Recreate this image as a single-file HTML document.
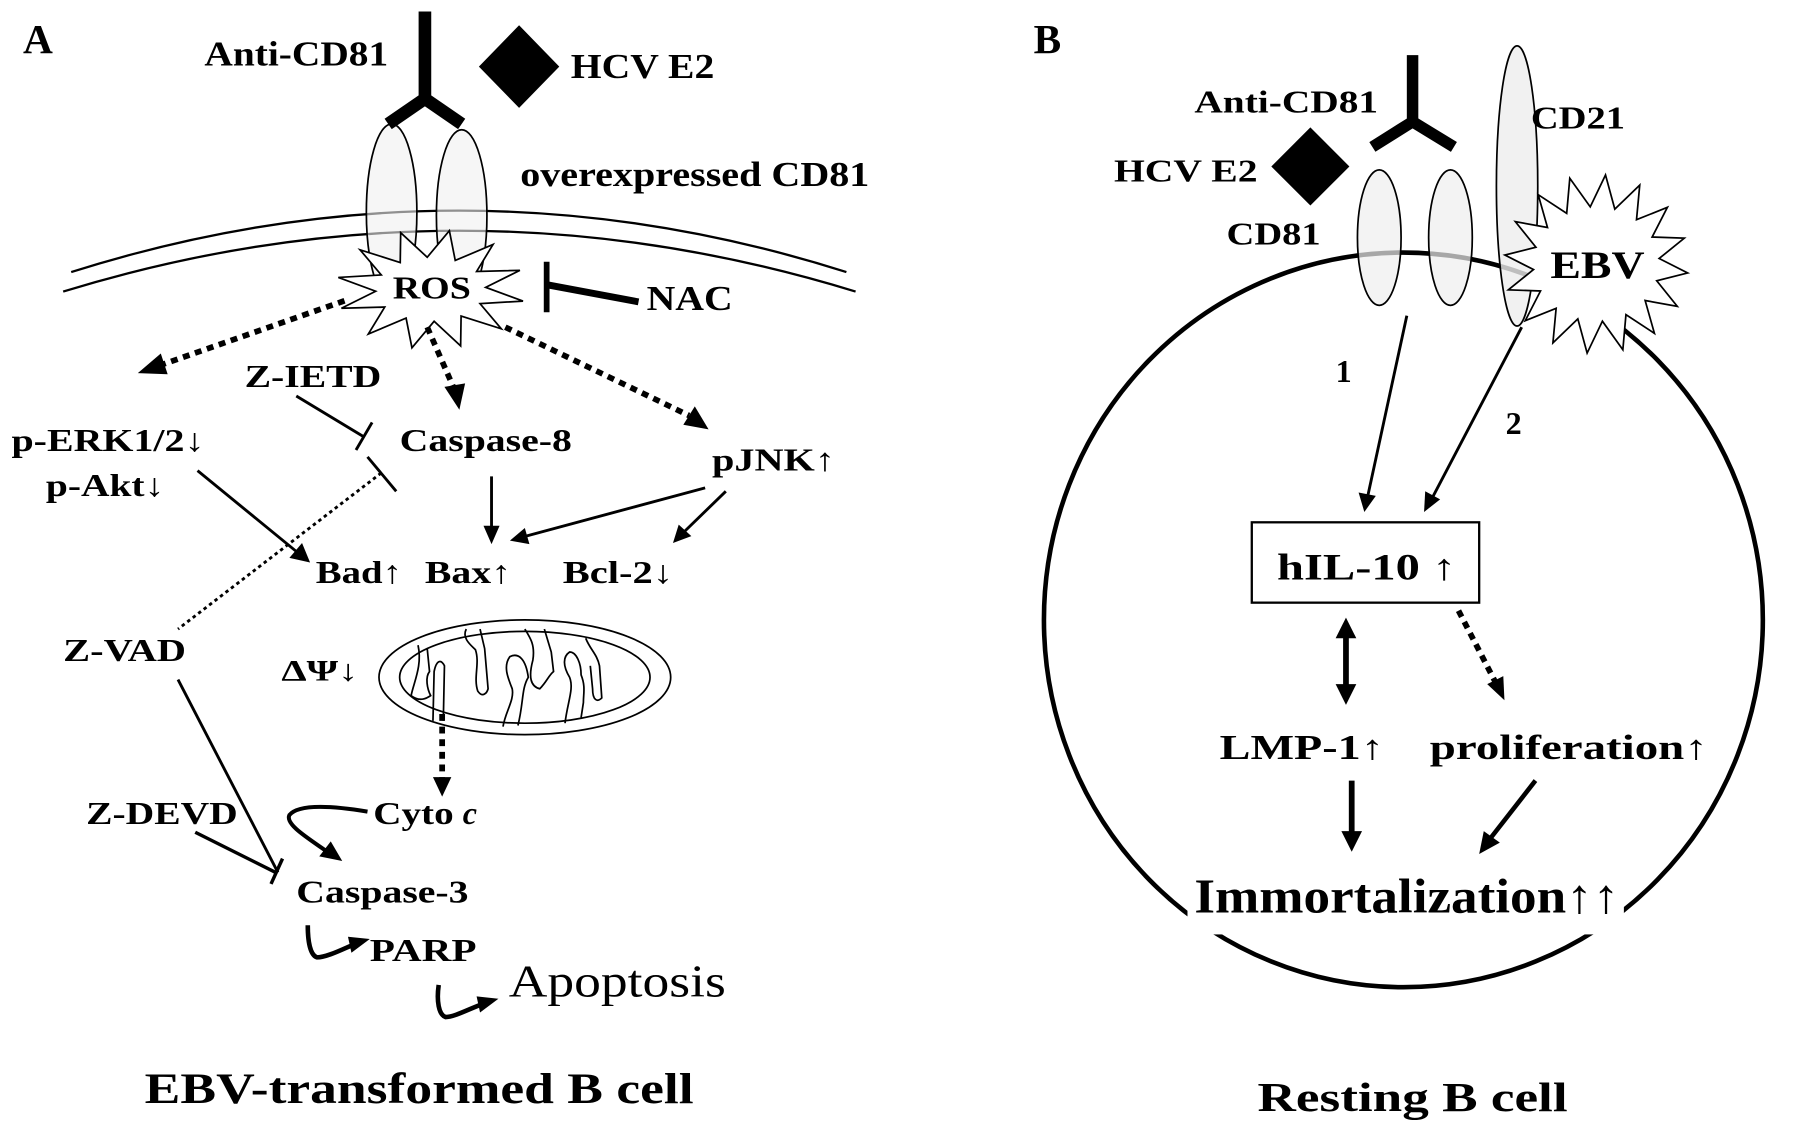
<!DOCTYPE html>
<html><head><meta charset="utf-8"><style>
html,body{margin:0;padding:0;background:#fff;}
svg{display:block;}
text{font-family:"Liberation Serif",serif;font-weight:bold;fill:#000;}
</style></head><body>
<svg width="1795" height="1133" viewBox="0 0 1563 987" preserveAspectRatio="none" xmlns="http://www.w3.org/2000/svg">
<defs>
<marker id="ah" viewBox="0 0 10 10" refX="9" refY="5" markerWidth="5" markerHeight="5" orient="auto" markerUnits="userSpaceOnUse" style="overflow:visible">
</marker>
</defs>
<rect width="1563" height="987" fill="#fff"/>
<!-- ================= PANEL A ================= -->
<text x="20" y="46" font-size="36">A</text>
<text x="178" y="57" font-size="30" textLength="160" lengthAdjust="spacingAndGlyphs">Anti-CD81</text>
<polygon points="452,22 487,58 452,94 417,58" fill="#000"/>
<text x="497" y="68" font-size="30" textLength="125" lengthAdjust="spacingAndGlyphs">HCV E2</text>
<!-- membrane -->
<path d="M62 237 Q400 130 737 237" fill="none" stroke="#000" stroke-width="2"/>
<path d="M55 254 Q400 148 745 254" fill="none" stroke="#000" stroke-width="2"/>
<!-- CD81 ellipses -->
<ellipse cx="341" cy="185" rx="22" ry="77" fill="#f0f0f0" fill-opacity="0.6" stroke="#000" stroke-width="1.5"/>
<ellipse cx="402" cy="188" rx="22" ry="75" fill="#f0f0f0" fill-opacity="0.6" stroke="#000" stroke-width="1.5"/>
<!-- antibody -->
<path d="M370 10 V88 M370 86 L338 108 M370 86 L402 108" stroke="#000" stroke-width="11" fill="none"/>
<text x="453" y="162" font-size="30" textLength="304" lengthAdjust="spacingAndGlyphs">overexpressed CD81</text>
<!-- ROS star -->
<polygon id="ros" fill="#fff" stroke="#000" stroke-width="1.5"/>
<text x="342" y="260" font-size="28" textLength="68" lengthAdjust="spacingAndGlyphs">ROS</text>
<path d="M476 228 V272" stroke="#000" stroke-width="5"/>
<path d="M476 248 L556 263" stroke="#000" stroke-width="6"/>
<text x="563" y="270" font-size="30" textLength="75" lengthAdjust="spacingAndGlyphs">NAC</text>
<!-- dotted arrows from ROS -->
<g stroke="#000" stroke-width="5" stroke-dasharray="6,5" fill="none">
<path d="M300 262 L140 318"/>
<path d="M372 285 L396 340"/>
<path d="M440 285 L600 362"/>
</g>
<g fill="#000">
<polygon points="120,325 140,308 146,326"/>
<polygon points="400,357 387,337 405,334"/>
<polygon points="617,374 595,370 605,354"/>
</g>
<text x="213" y="337" font-size="28" textLength="119" lengthAdjust="spacingAndGlyphs">Z-IETD</text>
<path d="M258 345 L316 380" stroke="#000" stroke-width="2.5"/>
<path d="M324 368 L310 392" stroke="#000" stroke-width="2.5"/>
<path d="M320 398 L345 428" stroke="#000" stroke-width="2.5"/>
<path d="M332 412 L155 548" stroke="#000" stroke-width="2.5" stroke-dasharray="3,3"/>
<text x="348" y="393" font-size="28" textLength="150" lengthAdjust="spacingAndGlyphs">Caspase-8</text>
<text x="10" y="393" font-size="28" textLength="168" lengthAdjust="spacingAndGlyphs">p-ERK1/2↓</text>
<text x="40" y="432" font-size="28" textLength="103" lengthAdjust="spacingAndGlyphs">p-Akt↓</text>
<text x="620" y="410" font-size="28" textLength="107" lengthAdjust="spacingAndGlyphs">pJNK↑</text>
<!-- solid arrows -->
<g stroke="#000" stroke-width="2.5" fill="none">
<path d="M172 410 L260 482"/>
<path d="M428 415 L428 460"/>
<path d="M614 425 L458 467"/>
<path d="M632 428 L596 463"/>
</g>
<g fill="#000">
<polygon points="270,490 252,486 263,473"/>
<polygon points="428,474 421,458 435,458"/>
<polygon points="444,471 457,460 461,474"/>
<polygon points="586,473 591,457 602,467"/>
</g>
<text x="275" y="508" font-size="28" textLength="75" lengthAdjust="spacingAndGlyphs">Bad↑</text>
<text x="370" y="508" font-size="28" textLength="75" lengthAdjust="spacingAndGlyphs">Bax↑</text>
<text x="490" y="508" font-size="28" textLength="96" lengthAdjust="spacingAndGlyphs">Bcl-2↓</text>
<text x="55" y="576" font-size="28" textLength="107" lengthAdjust="spacingAndGlyphs">Z-VAD</text>
<!-- mitochondrion -->
<ellipse cx="457" cy="590" rx="127" ry="50" fill="#fff" stroke="#000" stroke-width="1.5"/>
<ellipse cx="457" cy="590" rx="109" ry="40" fill="none" stroke="#000" stroke-width="1.5"/>
<g stroke="#000" stroke-width="1.5" fill="none">
<path d="M364 562 C368 580 360 595 358 606 C366 612 372 608 375 606 C372 600 370 590 374 585 L372 565"/>
<path d="M377 628 L378 585 C380 575 384 574 387 580 L386 628"/>
<path d="M406 548 C402 556 410 562 414 566 C418 578 412 590 416 602 C420 608 424 604 425 600 L422 565 L418 548"/>
<path d="M438 633 C440 620 448 610 446 600 C442 590 438 580 444 572 C452 568 458 575 460 590 C454 600 456 612 451 632"/>
<path d="M457 548 C462 556 466 562 464 575 C460 590 462 598 470 600 C476 594 478 588 482 585 L480 568 L474 548"/>
<path d="M492 630 C494 612 500 600 496 590 C490 580 490 572 496 568 C502 568 506 578 506 588 C510 598 508 604 508 612 L506 625"/>
<path d="M510 556 C514 566 520 570 522 580 L524 608 C520 612 516 610 516 600 L514 580"/>
</g>
<path d="M385 622 L385 680" stroke="#000" stroke-width="5" stroke-dasharray="6,5"/>
<polygon points="385,694 377,677 393,677" fill="#000"/>
<text x="245" y="593" font-size="26" textLength="67" lengthAdjust="spacingAndGlyphs">ΔΨ↓</text>
<text x="325" y="718" font-size="28" textLength="70" lengthAdjust="spacingAndGlyphs">Cyto</text>
<text x="403" y="718" font-size="28" font-style="italic">c</text>
<text x="75" y="718" font-size="28" textLength="132" lengthAdjust="spacingAndGlyphs">Z-DEVD</text>
<!-- Z-VAD and Z-DEVD inhibitors -->
<path d="M155 592 L242 760" stroke="#000" stroke-width="2.5"/>
<path d="M170 725 L240 760" stroke="#000" stroke-width="3"/>
<path d="M246 748 L236 770" stroke="#000" stroke-width="3"/>
<!-- cyto c curved arrow -->
<path d="M320 707 C290 702 260 700 252 710 C248 718 268 730 285 742" stroke="#000" stroke-width="3.5" fill="none"/>
<polygon points="298,750 278,746 288,733" fill="#000"/>
<text x="258" y="786" font-size="28" textLength="150" lengthAdjust="spacingAndGlyphs">Caspase-3</text>
<!-- PARP hook -->
<path d="M268 806 C268 820 270 832 276 834 C285 834 300 826 310 822" stroke="#000" stroke-width="4" fill="none"/>
<polygon points="322,818 306,830 303,816" fill="#000"/>
<text x="322" y="837" font-size="28" textLength="93" lengthAdjust="spacingAndGlyphs">PARP</text>
<path d="M382 858 C380 872 382 884 388 886 C396 886 410 878 422 874" stroke="#000" stroke-width="4" fill="none"/>
<polygon points="434,870 418,882 415,868" fill="#000"/>
<text x="443" y="868" font-size="40" font-weight="normal" style="font-weight:normal" textLength="189" lengthAdjust="spacingAndGlyphs">Apoptosis</text>
<text x="126" y="961" font-size="38" textLength="478" lengthAdjust="spacingAndGlyphs">EBV-transformed B cell</text>

<!-- ================= PANEL B ================= -->
<text x="900" y="46" font-size="36">B</text>
<ellipse cx="1222" cy="540" rx="313" ry="320" fill="none" stroke="#000" stroke-width="4"/>
<rect x="1034" y="748" width="380" height="66" fill="#fff"/>
<text x="1040" y="98" font-size="28" textLength="160" lengthAdjust="spacingAndGlyphs">Anti-CD81</text>
<text x="970" y="158" font-size="28" textLength="125" lengthAdjust="spacingAndGlyphs">HCV E2</text>
<text x="1068" y="213" font-size="28" textLength="82" lengthAdjust="spacingAndGlyphs">CD81</text>
<polygon points="1141,111 1175,145 1141,179 1107,145" fill="#000"/>
<path d="M1230 48 V108 M1230 106 L1195 128 M1230 106 L1266 128" stroke="#000" stroke-width="10" fill="none"/>
<ellipse cx="1201" cy="207" rx="19" ry="59" fill="#eee" fill-opacity="0.7" stroke="#000" stroke-width="1.5"/>
<ellipse cx="1263" cy="207" rx="19" ry="59" fill="#eee" fill-opacity="0.7" stroke="#000" stroke-width="1.5"/>
<ellipse cx="1321" cy="162" rx="18" ry="122" fill="#eee" fill-opacity="0.8" stroke="#000" stroke-width="1.5"/>
<text x="1333" y="112" font-size="28" textLength="82" lengthAdjust="spacingAndGlyphs">CD21</text>
<polygon id="ebv" fill="#fff" stroke="#000" stroke-width="1.5"/>
<text x="1350" y="242" font-size="34" textLength="82" lengthAdjust="spacingAndGlyphs">EBV</text>
<!-- arrows 1,2 -->
<path d="M1225 275 L1191 432" stroke="#000" stroke-width="2.5"/>
<polygon points="1188,446 1183,429 1198,432" fill="#000"/>
<path d="M1325 285 L1247 434" stroke="#000" stroke-width="2.5"/>
<polygon points="1240,446 1241,428 1254,435" fill="#000"/>
<text x="1163" y="333" font-size="28">1</text>
<text x="1311" y="378" font-size="28">2</text>
<rect x="1090" y="455" width="198" height="70" fill="#fff" stroke="#000" stroke-width="2"/>
<text x="1112" y="505" font-size="32" textLength="156" lengthAdjust="spacingAndGlyphs">hIL-10 ↑</text>
<!-- double arrow -->
<path d="M1172 550 L1172 602" stroke="#000" stroke-width="5"/>
<polygon points="1172,538 1163,556 1181,556" fill="#000"/>
<polygon points="1172,614 1163,596 1181,596" fill="#000"/>
<path d="M1270 532 L1302 594" stroke="#000" stroke-width="5" stroke-dasharray="6,5"/>
<polygon points="1310,610 1295,596 1309,589" fill="#000"/>
<text x="1062" y="661" font-size="30" textLength="143" lengthAdjust="spacingAndGlyphs">LMP-1↑</text>
<text x="1245" y="661" font-size="30" textLength="242" lengthAdjust="spacingAndGlyphs">proliferation↑</text>
<path d="M1177 680 L1177 726" stroke="#000" stroke-width="5"/>
<polygon points="1177,742 1168,724 1186,724" fill="#000"/>
<path d="M1337 680 L1298 730" stroke="#000" stroke-width="4"/>
<polygon points="1288,744 1292,724 1306,734" fill="#000"/>
<text x="1040" y="795" font-size="42" textLength="370" lengthAdjust="spacingAndGlyphs">Immortalization↑↑</text>
<text x="1095" y="968" font-size="36" textLength="270" lengthAdjust="spacingAndGlyphs">Resting B cell</text>
<script>
function star(id,cx,cy,ro,ryo,ri,ryi,n,rot){
 var p=[];for(var i=0;i<2*n;i++){var a=Math.PI*i/n+rot;var o=i%2==0;
 p.push((cx+Math.cos(a)*(o?ro:ri)).toFixed(1)+","+(cy+Math.sin(a)*(o?ryo:ryi)).toFixed(1));}
 document.getElementById(id).setAttribute("points",p.join(" "));}
star("ros",375,252,82,52,48,28,12,0.2);
star("ebv",1390,230,80,78,55,50,16,0.1);
</script>
</svg>
</body></html>
